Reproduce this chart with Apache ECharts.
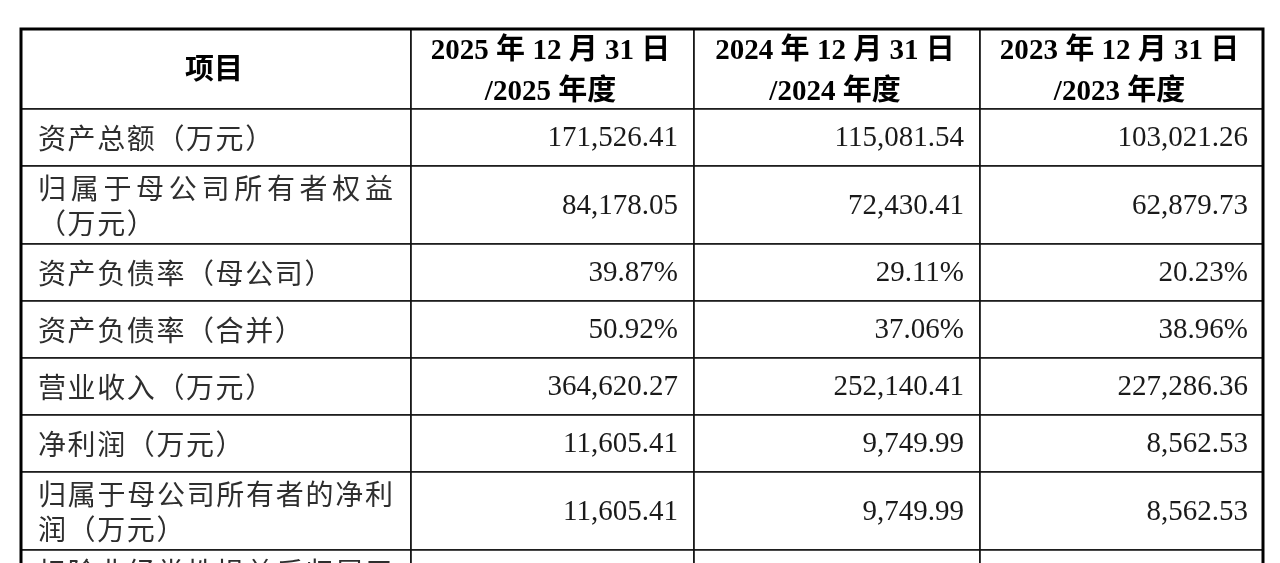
<!DOCTYPE html>
<html>
<head>
<meta charset="utf-8">
<script src="https://cdn.jsdelivr.net/npm/echarts@6/dist/echarts.min.js"></script>
<style>
html,body{margin:0;padding:0;background:#ffffff;}
#chart{width:1280px;height:563px;}
</style>
</head>
<body>
<div id="chart"></div>
<script>
// ---------- data ----------
const columnHeaders = ['项目', '2025 年 12 月 31 日\n/2025 年度', '2024 年 12 月 31 日\n/2024 年度', '2023 年 12 月 31 日\n/2023 年度'];
const items = [
  '资产总额（万元）',
  '归属于母公司所有者权益\n（万元）',
  '资产负债率（母公司）',
  '资产负债率（合并）',
  '营业收入（万元）',
  '净利润（万元）',
  '归属于母公司所有者的净利\n润（万元）',
  '扣除非经常性损益后归属于\n母公司所有者的净利润（万\n元）'
];
const rowUnits = ['amount', 'amount', 'percent', 'percent', 'amount', 'amount', 'amount', 'amount'];
const values2025 = [171526.41, 84178.05, 39.87, 50.92, 364620.27, 11605.41, 11605.41, null];
const values2024 = [115081.54, 72430.41, 29.11, 37.06, 252140.41, 9749.99, 9749.99, null];
const values2023 = [103021.26, 62879.73, 20.23, 38.96, 227286.36, 8562.53, 8562.53, null];

// ---------- layout ----------
const colWidths = [390, 283, 286, 283];
const rowHeights = [80, 57, 78, 57, 57, 57, 57, 78, 113];
const tableW = colWidths.reduce((a, b) => a + b, 0);
const tableH = rowHeights.reduce((a, b) => a + b, 0);
const valueCols = [values2025, values2024, values2023];

function fmt(v, unit) {
  if (v === null || v === undefined) return '';
  if (unit === 'percent') return v.toFixed(2) + '%';
  return v.toLocaleString('en-US', {minimumFractionDigits: 2, maximumFractionDigits: 2});
}
function cum(arr, n) { let s = 0; for (let i = 0; i < n; i++) s += arr[i]; return s; }

const cellData = [];
for (let r = 0; r <= items.length; r++) {
  for (let c = 0; c < columnHeaders.length; c++) cellData.push([c, r]);
}

const HEAD_FONT = 'bold 29px "Liberation Serif", "Noto Sans CJK SC"';
const LABEL_SIZE = 28;
const LABEL_PITCH = 29.6;
const LABEL_FONT = LABEL_SIZE + 'px "Noto Sans CJK SC"';
const NUM_FONT = '29px "Liberation Serif", "Times New Roman", serif';

function renderCell(params, api) {
  const c = api.value(0), r = api.value(1);
  const x0 = cum(colWidths, c), y0 = cum(rowHeights, r);
  const p0 = api.coord([x0, y0]);
  const p1 = api.coord([x0 + colWidths[c], y0 + rowHeights[r]]);
  const w = p1[0] - p0[0], h = p1[1] - p0[1];
  const cx = p0[0] + w / 2, cy = p0[1] + h / 2;
  const children = [{
    type: 'rect',
    shape: {x: p0[0], y: p0[1], width: w, height: h},
    style: {fill: '#ffffff', stroke: '#111111', lineWidth: 1.6}
  }];
  if (r === 0) {
    children.push({
      type: 'text', x: cx - 2, y: cy + 3,
      style: {text: columnHeaders[c], font: HEAD_FONT, fill: '#000000', align: 'center', verticalAlign: 'middle', lineHeight: 41}
    });
  } else if (c === 0) {
    const lines = items[r - 1].split('\n');
    const lh = 35;
    const left = p0[0] + 17, right = p1[0] - 18;
    const top = cy - (lines.length - 1) * lh / 2;
    lines.forEach((line, li) => {
      const ly = top + li * lh + 1;
      const chars = Array.from(line);
      let pitch = LABEL_PITCH;
      if (li < lines.length - 1 && chars.length > 1) {
        pitch = (right - left - LABEL_SIZE) / (chars.length - 1);
      }
      chars.forEach((ch, ci) => {
        children.push({
          type: 'text', x: left + ci * pitch, y: ly,
          style: {text: ch, font: LABEL_FONT, fill: '#2e2e2e', align: 'left', verticalAlign: 'middle'}
        });
      });
    });
  } else {
    const txt = fmt(valueCols[c - 1][r - 1], rowUnits[r - 1]);
    children.push({
      type: 'text', x: p1[0] - (c === 3 ? 15 : 16), y: cy + 1,
      style: {text: txt, font: NUM_FONT, fill: '#1a1a1a', align: 'right', verticalAlign: 'middle'}
    });
  }
  return {type: 'group', children: children};
}

function renderBorder(params, api) {
  const p0 = api.coord([0, 0]);
  const p1 = api.coord([tableW, tableH]);
  return {
    type: 'rect',
    shape: {x: p0[0], y: p0[1], width: p1[0] - p0[0], height: p1[1] - p0[1]},
    style: {fill: 'none', stroke: '#000000', lineWidth: 3}
  };
}

const chart = echarts.init(document.getElementById('chart'), null, {renderer: 'canvas'});
chart.setOption({
  backgroundColor: '#ffffff',
  animation: false,
  grid: {left: 21, top: 29, width: tableW, height: 534},
  xAxis: {type: 'value', min: 0, max: tableW, show: false},
  yAxis: {type: 'value', inverse: true, min: 0, max: 534, show: false},
  tooltip: {show: false},
  series: [
    {type: 'custom', renderItem: renderCell, data: cellData, clip: false, silent: true},
    {type: 'custom', renderItem: renderBorder, data: [[0, 0]], clip: false, silent: true, z: 3}
  ]
});
</script>
</body>
</html>
